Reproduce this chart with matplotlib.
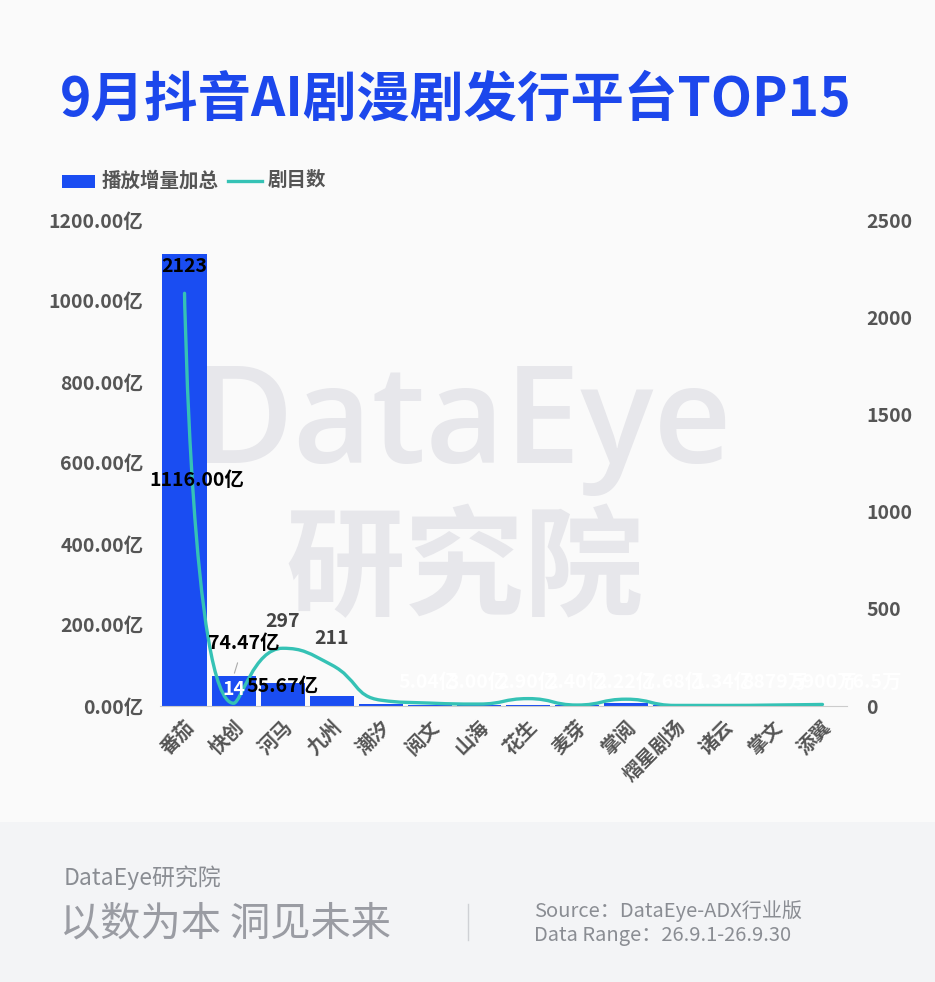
import numpy as np
import matplotlib
matplotlib.use("Agg")
import matplotlib.pyplot as plt
from matplotlib.path import Path
from matplotlib.patches import PathPatch, Rectangle
from matplotlib.lines import Line2D

plt.rcParams["font.family"] = ["Noto Sans CJK SC", "DejaVu Sans"]

platforms = ["番茄", "快创", "河马", "九州", "潮汐", "阅文", "山海", "花生",
             "麦芽", "掌阅", "熠星剧场", "诸云", "掌文", "添翼"]
play_total = [1116.00, 74.47, 55.67, 25.40, 5.04, 3.00, 2.90, 2.40,
              2.22, 7.68, 1.34, 0.8879, 0.59, 0.00765]  # 亿
play_labels = ["1116.00亿", "74.47亿", "55.67亿", "", "5.04亿", "3.00亿", "2.90亿",
               "2.40亿", "2.22亿", "7.68亿", "1.34亿", "8879万", "5900万", "76.5万"]
show_count = [2123, 14, 297, 211, 30, 15, 10, 38, 5, 35, 3, 3, 5, 8]

BLUE = "#1a4df2"
TEAL = "#35c2b5"
GREY = "#555555"

fig = plt.figure(figsize=(9.35, 9.82), dpi=100, facecolor="#fafafa")
fig.add_artist(Rectangle((0, 0), 1, 160 / 982, transform=fig.transFigure,
                         facecolor="#f3f4f6", edgecolor="none", zorder=-5))

# watermark
fig.text(0.495, 0.565, "DataEye", family=["Open Sans", "DejaVu Sans"], fontsize=98,
         fontweight="semibold", color="#e7e7eb", ha="center", va="center", zorder=-2)
fig.text(0.497, 0.418, "研究院", fontsize=86, fontweight="bold",
         color="#e7e7eb", ha="center", va="center", zorder=-2)

ax = fig.add_axes([160 / 935, 276 / 982, 687 / 935, 486 / 982])
ax.patch.set_alpha(0)
ax2 = ax.twinx()

x = np.arange(len(platforms))
ax.bar(x, play_total, width=0.9, color=BLUE, zorder=2)
ax.set_xlim(-0.5, len(platforms) - 0.5)
ax.set_ylim(0, 1200)
ax.set_yticks(np.arange(0, 1201, 200))
ax.set_yticklabels([f"{v:.2f}亿" for v in np.arange(0, 1201, 200)])
ax2.set_ylim(0, 2500)
ax2.set_yticks(np.arange(0, 2501, 500))

ax.set_xticks(x)
ax.set_xticklabels(platforms, rotation=45, ha="right", rotation_mode="anchor")
for a in (ax, ax2):
    for s in a.spines.values():
        s.set_visible(False)
    a.tick_params(length=0, labelsize=14, labelcolor=GREY)
    for t in a.get_xticklabels() + a.get_yticklabels():
        t.set_fontweight("bold")
ax.tick_params(axis="y", pad=12)
ax2.tick_params(axis="y", pad=14)
ax.tick_params(axis="x", pad=8)
ax.spines["bottom"].set_visible(True)
ax.spines["bottom"].set_color("#cccccc")

# smoothed line (echarts-style bezier, smooth=0.5) built in display space
pts = ax2.transData.transform(np.column_stack([x, show_count]))
smooth = 0.5
verts = [tuple(pts[0])]
codes = [Path.MOVETO]
cp0 = pts[0].copy()
n = len(pts)
for i in range(1, n):
    p = pts[i]
    prev = pts[i - 1]
    if i >= n - 1:
        ncp0 = p.copy()
        ncp1 = p.copy()
    else:
        nxt = pts[i + 1]
        v = nxt - prev
        l0 = np.hypot(*(p - prev))
        l1 = np.hypot(*(nxt - p))
        r = l1 / (l0 + l1)
        ncp1 = p + v * smooth * r
        ncp1 = np.minimum(ncp1, np.maximum(nxt, p))
        ncp1 = np.maximum(ncp1, np.minimum(nxt, p))
        v = ncp1 - p
        ncp0 = p - v * l0 / l1
        ncp0 = np.minimum(ncp0, np.maximum(prev, p))
        ncp0 = np.maximum(ncp0, np.minimum(prev, p))
        v = p - ncp0
        ncp1 = p + v * l1 / l0
    verts += [tuple(cp0), tuple(ncp0), tuple(p)]
    codes += [Path.CURVE4] * 3
    cp0 = ncp1
data_verts = ax2.transData.inverted().transform(np.array(verts))
ax2.add_patch(PathPatch(Path(data_verts, codes), facecolor="none", edgecolor=TEAL,
                        lw=2.4, zorder=3, capstyle="round"))

# bar labels (placed on ax2 so they sit above the line)
lab = dict(fontsize=14, fontweight="bold", ha="center", va="center")
ax2.annotate(play_labels[0], xy=(0, play_total[0] / 2), xycoords=ax.transData,
             xytext=(9, 0), textcoords="offset points",
             color="black", zorder=5, **lab)
ax2.annotate(play_labels[1], xy=(1, play_total[1]), xycoords=ax.transData,
             xytext=(7, 23), textcoords="offset points", color="black", zorder=5,
             arrowprops=dict(arrowstyle="-", color="#aaaaaa", lw=0.8,
                             shrinkA=5, shrinkB=2), **lab)
ax2.annotate(play_labels[2], xy=(2, play_total[2]), xycoords=ax.transData,
             xytext=(0, -2), textcoords="offset points", color="black", zorder=5, **lab)
for i in range(4, len(platforms)):
    ax2.annotate(play_labels[i], xy=(i, 0), xycoords=ax.transData, xytext=(13, 17),
                 textcoords="offset points", color="white", fontsize=14,
                 fontweight="bold", ha="left", va="center", zorder=5)

# line labels
ax2.annotate(str(show_count[0]), xy=(0, show_count[0]), xytext=(0, 19),
             textcoords="offset points", color="black", zorder=6, **lab)
ax2.annotate(str(show_count[1]), xy=(1, show_count[1]), xytext=(0, 10),
             textcoords="offset points", color="white", zorder=6, **lab)
for i in (2, 3):
    ax2.annotate(str(show_count[i]), xy=(i, show_count[i]), xytext=(0, 19),
                 textcoords="offset points", color="#444444", zorder=6, **lab)

# title + legend
fig.text(60 / 935, 1 - 100 / 982, "9月抖音AI剧漫剧发行平台TOP15", fontsize=38.5,
         fontweight="black", color="#1c47ec", va="center", ha="left")
fig.add_artist(Rectangle((62 / 935, 1 - 188 / 982), 33 / 935, 13 / 982,
                         transform=fig.transFigure, facecolor=BLUE, edgecolor="none"))
fig.text(102 / 935, 1 - 181 / 982, "播放增量加总", fontsize=14, fontweight="bold",
         color=GREY, va="center")
fig.add_artist(Line2D([228 / 935, 262 / 935], [1 - 181 / 982, 1 - 181 / 982],
                      transform=fig.transFigure, color=TEAL, lw=2.4))
fig.text(268 / 935, 1 - 181 / 982, "剧目数", fontsize=14, fontweight="bold",
         color=GREY, va="center")

# footer
fig.text(64 / 935, 1 - 878 / 982, "DataEye研究院", fontsize=16.5, color="#8a8d93",
         va="center")
fig.text(60 / 935, 1 - 924 / 982, "以数为本 洞见未来", fontsize=29, color="#9a9ca3",
         va="center")
fig.add_artist(Line2D([468 / 935, 468 / 935], [1 - 904 / 982, 1 - 940 / 982],
                      transform=fig.transFigure, color="#cfd1d5", lw=1))
fig.text(534 / 935, 1 - 911 / 982, "Source：DataEye-ADX行业版", fontsize=14.5,
         color="#8a8d93", va="center")
fig.text(534 / 935, 1 - 935 / 982, "Data Range：26.9.1-26.9.30", fontsize=14.5,
         color="#8a8d93", va="center")

fig.savefig("out.png", dpi=100, facecolor=fig.get_facecolor())
